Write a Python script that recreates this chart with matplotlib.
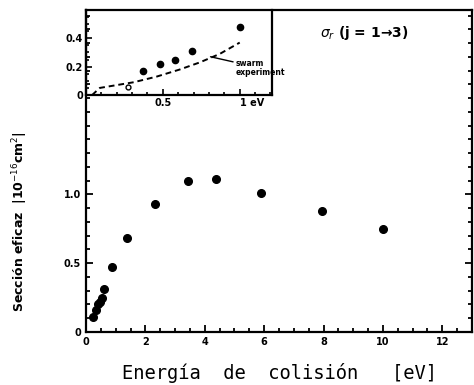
import numpy as np
import matplotlib.pyplot as plt
from matplotlib.ticker import MultipleLocator, FixedLocator

# main panel: cross section vs collision energy
energy = [0.24, 0.34, 0.40, 0.47, 0.54, 0.61, 0.88, 1.38, 2.32, 3.43, 4.38, 5.9, 7.95, 10.0]
sigma = [0.11, 0.16, 0.20, 0.22, 0.25, 0.31, 0.47, 0.68, 0.93, 1.10, 1.11, 1.01, 0.88, 0.75]

# inset: low energy detail
inset_e = [0.37, 0.48, 0.58, 0.69, 1.0]
inset_s = [0.17, 0.22, 0.25, 0.31, 0.48]
inset_open_e = [0.27]
inset_open_s = [0.056]

# swarm experiment (dashed)
swarm_e = [0.04, 0.09, 0.31, 0.46, 0.61, 0.74, 0.87, 1.0]
swarm_s = [0.0, 0.05, 0.09, 0.13, 0.18, 0.23, 0.29, 0.37]

fig = plt.figure(figsize=(4.74, 3.85), dpi=100)
ax = fig.add_axes([86/474, 1-332/385, (472-86)/474, (332-10)/385])

ax.plot(energy, sigma, 'o', color='black', ms=5.5)
ax.set_xlim(0, 13)
ax.set_ylim(0, 2.34)
ax.set_xticks([0, 2, 4, 6, 8, 10, 12])
ax.xaxis.set_minor_locator(MultipleLocator(0.5))
ax.yaxis.set_major_locator(FixedLocator([0, 0.5, 1.0]))
ax.set_yticklabels(['0', '0.5', '1.0'])
ax.yaxis.set_minor_locator(MultipleLocator(0.1))
ax.tick_params(which='both', direction='in', top=False, right=True, width=1.3)
ax.tick_params(which='major', length=5, labelsize=7)
ax.tick_params(which='minor', length=3)
for lab in ax.get_xticklabels() + ax.get_yticklabels():
    lab.set_fontweight('bold')
for s in ax.spines.values():
    s.set_linewidth(1.6)

ax.set_xlabel('Energía  de  colisión   [eV]', family='DejaVu Sans Mono', fontsize=13.5)
ax.xaxis.set_label_coords(0.5, -0.095)
fig.text(20/474, 1-222/385, 'Sección eficaz  |10$^{-16}$cm$^2$|', rotation=90,
         ha='center', va='center', fontsize=9, fontweight='bold')

ax.text(0.72, 0.93, r'$\sigma_r$ (j = 1→3)', transform=ax.transAxes,
        ha='center', va='center', fontsize=10, fontweight='bold')

# inset
ins = fig.add_axes([86/474, 1-95/385, (272-86)/474, 85/385])
ins.patch.set_alpha(0)
ins.plot(inset_e, inset_s, 'o', color='black', ms=4.5)
ins.plot(inset_open_e, inset_open_s, 'o', mfc='white', mec='black', ms=3.5, mew=1)
ins.plot(swarm_e, swarm_s, '--', color='black', lw=1.4, dashes=(3, 2))
ins.annotate('swarm\nexperiment', xy=(0.81, 0.27), xytext=(0.975, 0.19),
             fontsize=5.5, fontweight='bold', ha='left', va='center',
             linespacing=0.9, annotation_clip=False,
             arrowprops=dict(arrowstyle='-', color='black', lw=1, shrinkA=0, shrinkB=0))
ins.set_xlim(0, 1.21)
ins.set_ylim(0, 0.6)
ins.set_xticks([0.5, 1.0])
ins.set_xticklabels(['0.5', '1 eV'])
ins.get_xticklabels()[1].set_horizontalalignment('left')
ins.set_yticks([0, 0.2, 0.4])
ins.set_yticklabels(['0', '0.2', '0.4'])
ins.xaxis.set_minor_locator(MultipleLocator(0.1))
ins.yaxis.set_minor_locator(MultipleLocator(0.05))
ins.tick_params(which='both', direction='in', width=1.2, labelsize=7, pad=2)
ins.tick_params(which='major', length=4)
ins.tick_params(which='minor', length=2.5)
for lab in ins.get_xticklabels() + ins.get_yticklabels():
    lab.set_fontweight('bold')
for s in ins.spines.values():
    s.set_linewidth(1.6)
ins.spines['top'].set_visible(False)

fig.savefig('out.png', dpi=100)
